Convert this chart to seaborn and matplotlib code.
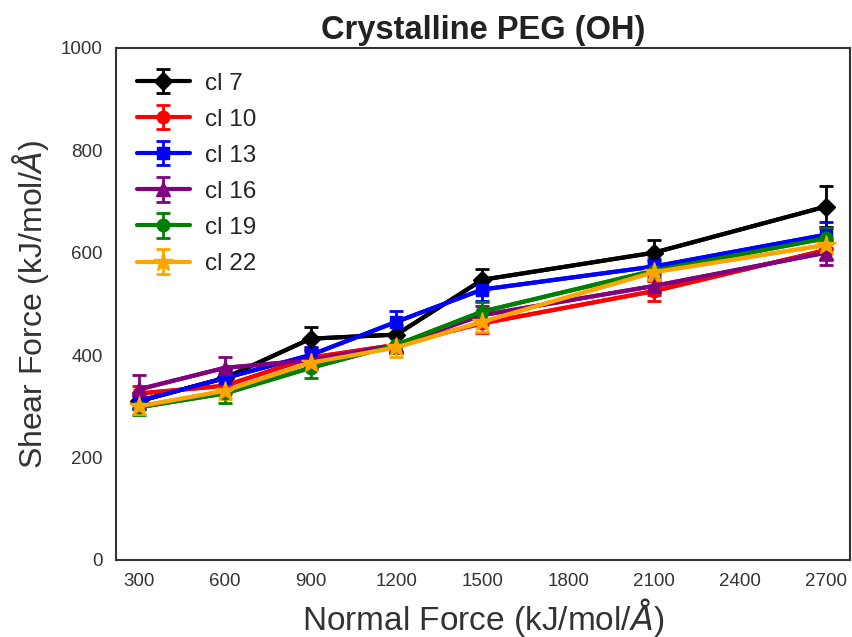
import matplotlib
matplotlib.use("Agg")
import matplotlib.pyplot as plt
import seaborn as sns
import numpy as np

# Normal force values (kJ/mol/Å)
normal_force = [300, 600, 900, 1200, 1500, 2100, 2700]

# Shear force per chain length, with standard errors
cl7 = [310, 355, 432, 440, 547, 600, 690]
cl7_err = [15, 15, 22, 18, 22, 25, 40]
cl10 = [325, 340, 395, 420, 462, 525, 605]
cl10_err = [15, 15, 18, 15, 18, 20, 20]
cl13 = [310, 355, 400, 465, 528, 573, 635]
cl13_err = [15, 15, 15, 22, 22, 15, 25]
cl16 = [333, 375, 390, 420, 478, 535, 600]
cl16_err = [28, 22, 18, 15, 18, 18, 25]
cl19 = [298, 325, 375, 420, 485, 565, 628]
cl19_err = [15, 18, 20, 15, 18, 18, 20]
cl22 = [300, 330, 385, 415, 465, 562, 615]
cl22_err = [15, 15, 15, 18, 20, 15, 18]

labels = ["cl 7", "cl 10", "cl 13", "cl 16", "cl 19", "cl 22"]
values = [cl7, cl10, cl13, cl16, cl19, cl22]
errors = [cl7_err, cl10_err, cl13_err, cl16_err, cl19_err, cl22_err]
colors = ["black", "red", "blue", "purple", "green", "orange"]
markers = ["D", "o", "s", "^", "o", "*"]
msizes = [9, 9, 9, 10, 9, 15]

sns.set_theme(style="white")
plt.rcParams["font.family"] = ["Liberation Sans", "DejaVu Sans"]

fig = plt.figure(figsize=(8.52, 6.37), dpi=100)
ax = fig.add_axes([0.136, 0.121, 0.862, 0.804])

for lab, y, e, c, m, ms in zip(labels, values, errors, colors, markers, msizes):
    sns.lineplot(x=normal_force, y=y, color=c, linewidth=3, ax=ax, legend=False)
    ax.errorbar(normal_force, y, yerr=e, color=c, marker=m, markersize=ms,
                linewidth=3, elinewidth=2, capsize=5, capthick=2, label=lab)

ax.set_xlim(220, 2785)
ax.set_ylim(0, 1000)
ax.set_xticks(np.arange(300, 2701, 300))
ax.set_yticks(np.arange(0, 1001, 200))
ax.tick_params(labelsize=13.5, colors="#333333")
for s in ax.spines.values():
    s.set_color("#333333")
    s.set_linewidth(1.5)

ax.set_xlabel(r"Normal Force (kJ/mol/$\AA$)", fontsize=24, color="#333333")
ax.set_ylabel(r"Shear Force (kJ/mol/$\AA$)", fontsize=23, color="#333333",
              labelpad=7)
ax.set_title("Crystalline PEG (OH)", fontsize=23.5, fontweight="bold", color="#222222")

ax.legend(loc="upper left", bbox_to_anchor=(0, 0.992), fontsize=17.5,
          frameon=False, handlelength=2.2, handletextpad=0.6, numpoints=1,
          labelspacing=0.58, borderaxespad=0.45)

fig.savefig("out.png", dpi=100)
